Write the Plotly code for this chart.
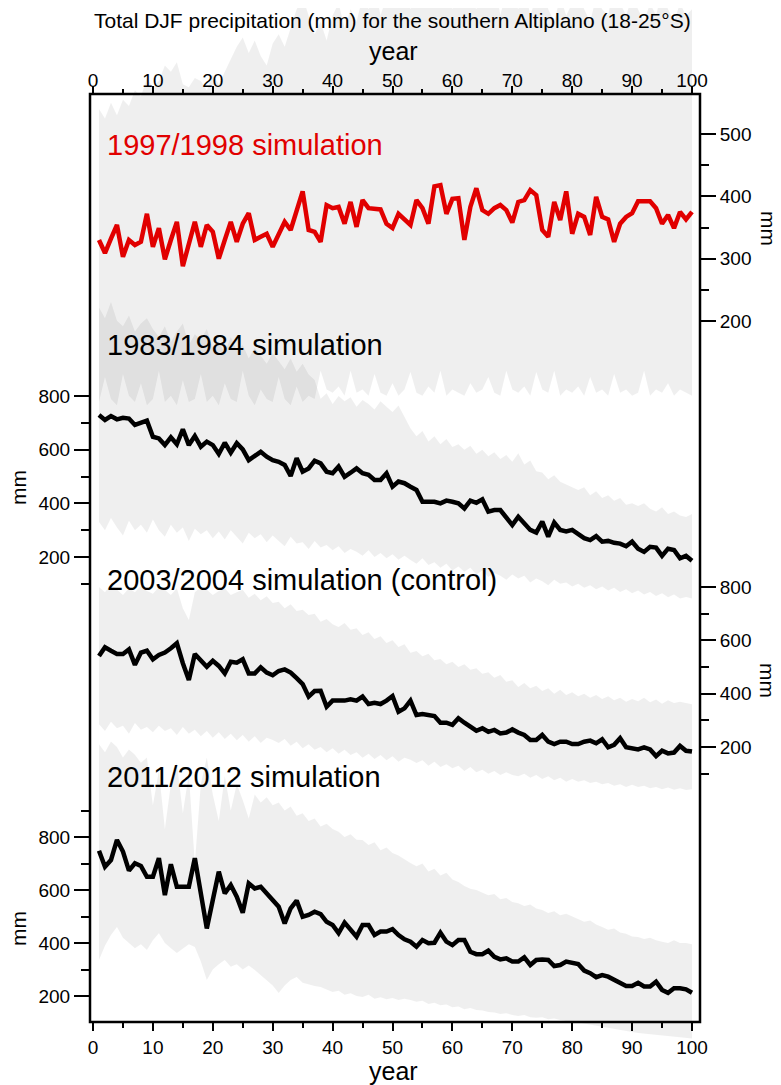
import plotly.graph_objects as go

# ---------------- data ----------------
years = list(range(1, 101))

line_1997 = [330, 309, 332, 354, 303, 330, 322, 327, 372, 319,
             349, 299, 330, 359, 288, 325, 359, 319, 354, 343,
             300, 330, 359, 327, 356, 373, 330, 335, 340, 319,
             340, 359, 346, 375, 408, 346, 343, 327, 386, 381,
             383, 356, 391, 351, 394, 381, 380, 379, 356, 349,
             372, 364, 354, 394, 381, 356, 416, 418, 372, 396,
             397, 330, 383, 413, 378, 372, 381, 386, 378, 358,
             391, 394, 410, 402, 346, 335, 391, 362, 408, 340,
             372, 367, 338, 399, 367, 363, 327, 356, 367, 373,
             392, 392, 392, 381, 356, 370, 349, 375, 363, 375]

line_1983 = [729, 711, 725, 713, 719, 716, 692, 698, 708, 648,
             642, 617, 646, 620, 676, 617, 651, 611, 630, 617,
             584, 626, 589, 624, 601, 561, 576, 592, 574, 561,
             555, 543, 502, 568, 518, 530, 559, 549, 518, 512,
             537, 499, 514, 530, 512, 506, 487, 487, 512, 462,
             481, 475, 462, 450, 406, 406, 406, 400, 410, 406,
             400, 381, 410, 402, 415, 369, 375, 375, 350, 319,
             350, 325, 301, 291, 332, 276, 328, 301, 295, 301,
             286, 270, 263, 278, 257, 260, 253, 250, 240, 257,
             231, 219, 238, 235, 204, 231, 226, 195, 204, 186]

line_2003 = [541, 574, 561, 549, 549, 566, 508, 554, 561, 529,
             545, 554, 570, 589, 514, 451, 549, 526, 501, 523,
             504, 476, 520, 516, 529, 476, 476, 499, 479, 469,
             485, 491, 479, 458, 436, 389, 410, 411, 351, 374,
             374, 374, 379, 374, 389, 361, 366, 361, 374, 391,
             332, 345, 374, 320, 324, 320, 316, 291, 291, 283,
             308, 291, 276, 261, 270, 257, 264, 251, 254, 266,
             254, 245, 226, 226, 245, 220, 211, 220, 220, 211,
             211, 220, 224, 214, 229, 199, 208, 233, 199, 195,
             191, 199, 191, 166, 186, 176, 179, 204, 186, 183]

line_2011 = [748, 688, 713, 789, 745, 673, 701, 691, 650, 650,
             720, 581, 697, 612, 612, 612, 720, 587, 455, 562,
             669, 587, 619, 575, 514, 625, 606, 612, 587, 562,
             537, 474, 531, 560, 499, 506, 518, 509, 480, 468,
             437, 477, 449, 424, 468, 468, 430, 443, 443, 452,
             430, 414, 405, 386, 411, 399, 401, 439, 405, 392,
             411, 411, 367, 358, 358, 371, 348, 338, 342, 330,
             330, 346, 317, 336, 338, 336, 313, 317, 330, 326,
             321, 296, 286, 271, 279, 273, 260, 248, 238, 238,
             250, 236, 236, 254, 223, 212, 229, 229, 225, 212]

# ensemble spread (max / min)
upper_1997 = [540, 525, 550, 530, 555, 545, 570, 560, 590, 575,
              585, 610, 600, 615, 580, 575, 590, 585, 570, 595,
              580, 600, 620, 640, 655, 630, 650, 625, 610, 645,
              660, 640, 670, 700, 720, 690, 660, 680, 650, 690,
              710, 670, 700, 680, 720, 700, 740, 690, 720, 750,
              710, 740, 700, 730, 760, 720, 750, 710, 740, 700,
              730, 760, 720, 700, 740, 710, 750, 690, 730, 720,
              700, 740, 690, 720, 750, 700, 680, 720, 690, 710,
              730, 700, 680, 720, 700, 690, 740, 710, 690, 720,
              700, 680, 710, 690, 730, 700, 680, 710, 690, 700]
lower_1997 = [70, 110, 75, 65, 115, 80, 70, 100, 65, 75,
              120, 70, 80, 65, 105, 70, 75, 115, 70, 80,
              65, 100, 75, 70, 120, 80, 65, 90, 75, 70,
              110, 75, 65, 95, 70, 80, 75, 120, 90, 85,
              95, 80, 120, 85, 90, 80, 115, 85, 80, 100,
              80, 90, 118, 85, 80, 95, 85, 120, 80, 90,
              85, 80, 100, 85, 90, 110, 85, 80, 120, 90,
              85, 95, 80, 118, 90, 85, 120, 80, 90, 85,
              95, 80, 110, 85, 90, 80, 115, 85, 90, 80,
              85, 120, 80, 90, 85, 100, 80, 90, 85, 80]

upper_1983 = [1130, 1090, 1150, 1080, 1060, 1100, 1040, 1070, 1090, 1050,
              1020, 1060, 1000, 1040, 1070, 990, 1030, 1010, 1050, 980,
              1000, 960, 1020, 970, 990, 940, 980, 950, 920, 960,
              930, 900, 940, 890, 920, 880, 860, 790, 810, 770,
              800, 780, 795, 760, 785, 770, 750, 780, 760, 740,
              765, 720, 680, 650, 670, 630, 650, 620, 640, 610,
              620, 600, 615, 585, 600, 575, 590, 565, 580, 555,
              587, 545, 560, 520, 515, 490, 505, 480, 470, 461,
              450, 460, 430, 445, 420, 430, 410, 420, 395, 400,
              390, 400, 380, 370, 385, 360, 370, 355, 349, 360]
lower_1983 = [330, 300, 345, 310, 280, 335, 300, 320, 290, 340,
              300, 275, 320, 290, 310, 260, 305, 285, 300, 270,
              295, 265, 300, 275, 250, 290, 270, 285, 255, 280,
              260, 240, 275, 250, 255, 230, 260, 235, 245, 225,
              240, 215, 230, 220, 205, 225, 200, 215, 195, 210,
              190, 205, 189, 175, 195, 170, 180, 160, 175, 150,
              165, 145, 160, 135, 150, 125, 140, 130, 115, 135,
              120, 130, 105, 120, 110, 95, 115, 100, 105, 90,
              100, 85, 95, 80, 90, 75, 85, 70, 80, 65,
              75, 60, 70, 55, 65, 50, 60, 45, 51, 45]

upper_2003 = [800, 780, 810, 790, 770, 795, 780, 805, 785, 775,
              800, 790, 770, 795, 720, 676, 780, 800, 790, 770,
              785, 795, 770, 780, 790, 760, 775, 750, 765, 740,
              745, 720, 735, 710, 715, 695, 700, 670, 680, 660,
              650, 665, 640, 645, 620, 630, 605, 615, 590, 600,
              575, 585, 553, 560, 540, 550, 525, 530, 510, 520,
              500, 510, 490, 495, 475, 480, 460, 470, 445, 450,
              425, 440, 420, 430, 410, 420, 400, 415, 395, 405,
              390, 400, 385, 395, 380, 390, 375, 385, 370, 380,
              372, 385, 368, 378, 362, 375, 365, 370, 366, 360]
lower_2003 = [285, 260, 295, 270, 280, 250, 290, 265, 275, 255,
              280, 260, 270, 245, 275, 250, 265, 240, 260, 235,
              255, 230, 250, 225, 245, 220, 240, 215, 235, 226,
              215, 230, 205, 220, 195, 210, 190, 200, 180, 195,
              175, 190, 170, 180, 160, 175, 155, 170, 150, 165,
              145, 160, 152, 140, 150, 130, 145, 125, 135, 120,
              130, 110, 125, 105, 115, 100, 110, 95, 105, 95,
              90, 100, 85, 95, 80, 90, 75, 85, 70, 80,
              70, 75, 65, 70, 60, 65, 55, 60, 50, 58,
              50, 55, 45, 50, 42, 48, 40, 45, 39, 42]

upper_2011 = [1150, 1120, 1160, 1140, 1100, 1130, 1110, 1080, 1100, 920,
              1050, 830, 1000, 1080, 890, 1040, 700, 1000, 1100, 960,
              860, 1030, 900, 1000, 940, 870, 960, 930, 950, 920,
              930, 900, 915, 880, 890, 860, 870, 840, 850, 830,
              820, 800, 810, 790, 789, 770, 780, 750, 760, 740,
              730, 715, 702, 690, 700, 670, 680, 655, 665, 640,
              630, 615, 605, 600, 590, 580, 585, 565, 570, 555,
              550, 540, 545, 530, 525, 513, 520, 505, 510, 500,
              490, 480, 485, 470, 460, 450, 455, 440, 435, 425,
              423, 415, 420, 410, 405, 400, 410, 400, 400, 395]
lower_2011 = [336, 390, 430, 460, 420, 400, 380, 395, 374, 410,
              437, 400, 380, 362, 380, 395, 385, 330, 260, 300,
              320, 336, 310, 320, 300, 315, 298, 280, 260, 240,
              211, 240, 260, 272, 250, 245, 238, 234, 225, 215,
              220, 205, 210, 200, 196, 205, 190, 195, 188, 192,
              185, 190, 185, 178, 182, 170, 175, 165, 168, 158,
              160, 150, 155, 147, 145, 140, 138, 132, 135, 128,
              125, 128, 120, 118, 120, 112, 115, 109, 105, 102,
              100, 95, 92, 88, 85, 80, 76, 72, 68, 64,
              60, 58, 55, 52, 50, 48, 46, 44, 42, 40]

labels = ["1997/1998 simulation", "1983/1984 simulation",
          "2003/2004 simulation (control)", "2011/2012 simulation"]
title_text = "Total DJF precipitation (mm) for the southern Altiplano (18-25°S)"
x_ticks = list(range(0, 101, 10))
x_minor = list(range(5, 100, 10))
ticks_1997 = [200, 300, 400, 500]
minor_1997 = [250, 350, 450]
ticks_mm = [200, 400, 600, 800]
minor_mm = [100, 300, 500, 700]
minor_2011 = [300, 500, 700, 900]

# ---------------- layout helpers ----------------
# positions below are given in window pixels; the page body is offset by 8 px
OFF = 8
W, H = 781 - OFF, 1085 - OFF
PL, PR = 90, 700            # plot frame left / right (window px)
FRAME_TOP, FRAME_BOT = 94, 1022
ML = PL - OFF
MR = W - (PR - OFF)
PW = PR - PL
FONT = "Liberation Sans, Arial, sans-serif"
RED = "#e10000"
BAND = "rgba(0,0,0,0.063)"


def pf(ywin):
    return (H - (ywin - OFF)) / H


def px(xwin):
    return (xwin - PL) / PW


def yrange(va, ya, vb, yb):
    s = (yb - ya) / (va - vb)
    yf = ya - OFF
    return [va - (H - yf) / s, va + yf / s]


xs = 5.99
xr = [0 - (93 - PL) / xs, 100 + (PR - 692) / xs]

fig = go.Figure()


def band(up, lo, xa, ya):
    fig.add_trace(go.Scatter(x=years + years[::-1], y=up + lo[::-1], mode="lines",
                             fill="toself", fillcolor=BAND, line=dict(width=0),
                             hoverinfo="skip", showlegend=False, xaxis=xa, yaxis=ya))


band(upper_1997, lower_1997, "x2", "y2")
band(upper_1983, lower_1983, "x", "y")
band(upper_2003, lower_2003, "x", "y3")
band(upper_2011, lower_2011, "x", "y4")


def line(vals, color, xa, ya):
    fig.add_trace(go.Scatter(x=years, y=vals, mode="lines",
                             line=dict(color=color, width=4.5),
                             showlegend=False, xaxis=xa, yaxis=ya))


line(line_1997, RED, "x2", "y2")
line(line_1983, "black", "x", "y")
line(line_2003, "black", "x", "y3")
line(line_2011, "black", "x", "y4")

tickfont = dict(family=FONT, size=19, color="black")
common_x = dict(range=xr, tickmode="array", tickvals=x_ticks, ticks="outside",
                ticklen=8, tickwidth=2, tickcolor="black", showgrid=False,
                zeroline=False, showline=False, tickfont=tickfont, automargin=False,
                minor=dict(tickvals=x_minor, ticks="outside", ticklen=5,
                           tickwidth=2, tickcolor="black", showgrid=False))

common_y = dict(ticks="outside", ticklen=15, tickwidth=2, tickcolor="black",
                showgrid=False, zeroline=False, showline=False, tickfont=tickfont,
                tickmode="array", anchor="x", automargin=False)


def minor(vals):
    return dict(tickvals=vals, ticks="outside", ticklen=8, tickwidth=2,
                tickcolor="black", showgrid=False)


fig.update_layout(
    template="none",
    width=W, height=H,
    margin=dict(l=ML, r=MR, t=0, b=0, autoexpand=False),
    paper_bgcolor="white", plot_bgcolor="white",
    showlegend=False,
    xaxis=dict(**common_x, anchor="free", position=pf(FRAME_BOT), side="bottom"),
    xaxis2=dict(**common_x, anchor="free", position=pf(FRAME_TOP), side="top",
                overlaying="x", ticklabelstandoff=-9),
    yaxis=dict(**common_y, side="left", range=yrange(800, 396, 200, 557),
               tickvals=ticks_mm, minor=minor(minor_mm)),
    yaxis2=dict(**common_y, side="right", overlaying="y",
                range=yrange(500, 134, 200, 321), tickvals=ticks_1997,
                minor=minor(minor_1997)),
    yaxis3=dict(**common_y, side="right", overlaying="y",
                range=yrange(800, 587, 200, 747), tickvals=ticks_mm,
                minor=minor(minor_mm)),
    yaxis4=dict(**common_y, side="left", overlaying="y",
                range=yrange(800, 837, 200, 996), tickvals=ticks_mm,
                minor=minor(minor_2011)),
)

fig.add_shape(type="rect", xref="paper", yref="paper", x0=0, x1=1,
              y0=pf(FRAME_BOT), y1=pf(FRAME_TOP),
              line=dict(color="black", width=2.5), layer="above")

ann = []
ann.append(dict(text=title_text, x=px(392), y=pf(21), font=dict(family=FONT, size=21)))
ann.append(dict(text="year", x=px(393), y=pf(51), font=dict(family=FONT, size=25)))
ann.append(dict(text="year", x=px(393), y=pf(1071), font=dict(family=FONT, size=25)))
label_y = [145, 345, 580, 777]
label_col = [RED, "black", "black", "black"]
for t, yy, c in zip(labels, label_y, label_col):
    ann.append(dict(text=t, x=px(105), y=pf(yy), xanchor="left",
                    font=dict(family=FONT, size=29, color=c)))
for yy in (488, 929):
    ann.append(dict(text="mm", x=px(18), y=pf(yy), textangle=-90,
                    font=dict(family=FONT, size=21)))
for yy in (228, 680):
    ann.append(dict(text="mm", x=px(768), y=pf(yy), textangle=90,
                    font=dict(family=FONT, size=21)))
for a in ann:
    a.setdefault("xanchor", "center")
    a["font"].setdefault("color", "black")
    fig.add_annotation(xref="paper", yref="paper", yanchor="middle",
                       showarrow=False, **a)

fig.write_html("out.html")
